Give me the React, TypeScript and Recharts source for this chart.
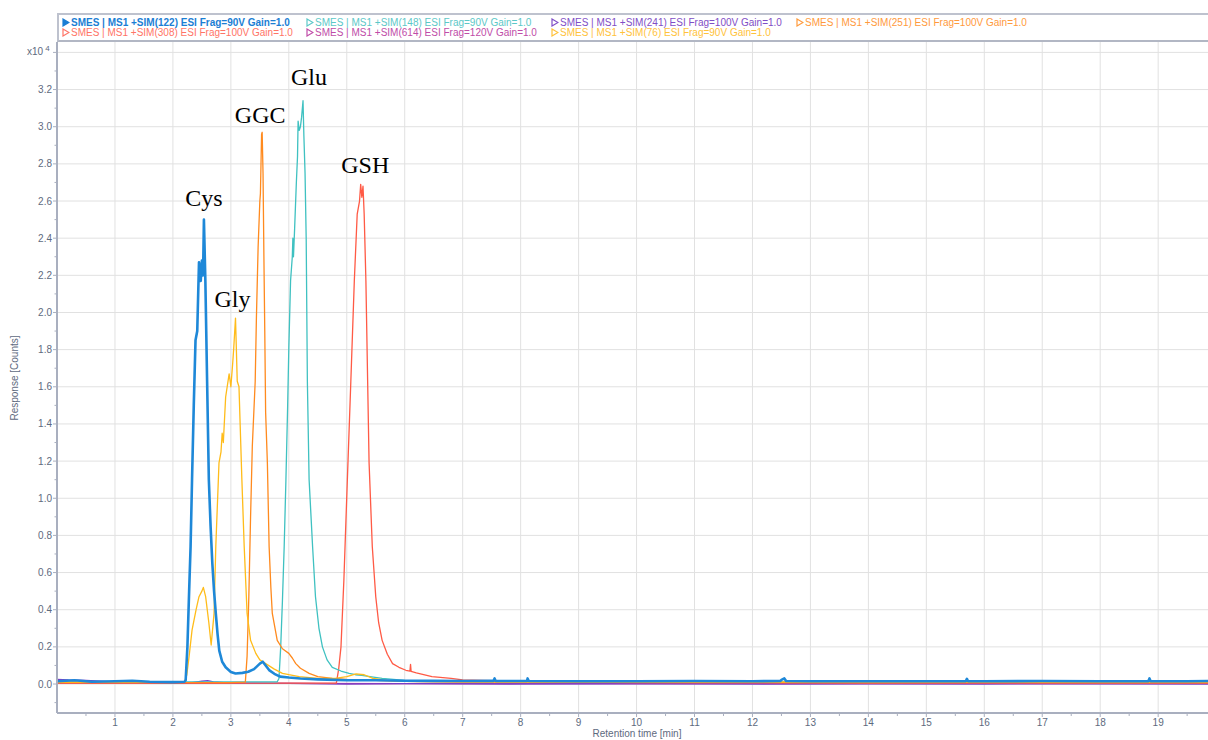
import React from "react";
import { CartesianGrid, Line, LineChart, ReferenceDot, XAxis, YAxis } from "recharts";

// retention time [min], response [x10^4 counts]
const sim122: [number, number][] = [
  [0, 0.015], [0.3, 0.02], [0.6, 0.012], [1.0, 0.015], [1.3, 0.018], [1.6, 0.012], [2.0, 0.01], [2.2, 0.012],
  [2.22, 0.02], [2.25, 0.2], [2.28, 0.5], [2.305, 0.74], [2.33, 1.1], [2.36, 1.5], [2.39, 1.85], [2.42, 1.9],
  [2.45, 2.27], [2.48, 2.17], [2.5, 2.28], [2.52, 2.2], [2.535, 2.5], [2.56, 2.17], [2.59, 1.63], [2.62, 1.1],
  [2.65, 0.85], [2.68, 0.65], [2.71, 0.5], [2.74, 0.38], [2.77, 0.27], [2.8, 0.18], [2.85, 0.12], [2.91, 0.09],
  [3.0, 0.065], [3.08, 0.057], [3.2, 0.06], [3.3, 0.066], [3.4, 0.08], [3.5, 0.11], [3.55, 0.12], [3.6, 0.1],
  [3.66, 0.075], [3.75, 0.055], [3.85, 0.04], [4.0, 0.035], [4.2, 0.03], [4.5, 0.025], [5.0, 0.02], [5.5, 0.02],
  [6.0, 0.018], [6.5, 0.017], [7.0, 0.016], [7.5, 0.017], [7.53, 0.016], [7.55, 0.03], [7.57, 0.016],
  [8.1, 0.017], [8.11, 0.017], [8.12, 0.03], [8.14, 0.016], [9, 0.015], [10, 0.015], [11, 0.016], [12, 0.015],
  [12.48, 0.016], [12.5, 0.022], [12.55, 0.03], [12.58, 0.016], [13, 0.015], [14, 0.015], [15, 0.015],
  [15.68, 0.015], [15.7, 0.028], [15.72, 0.015], [16, 0.015], [17, 0.016], [18, 0.015], [18.83, 0.015],
  [18.85, 0.03], [18.87, 0.015], [19.5, 0.015], [19.86, 0.016],
];
const sim148: [number, number][] = [
  [0, 0.012], [1, 0.012], [2, 0.012], [3, 0.012], [3.8, 0.012], [3.83, 0.03], [3.86, 0.2], [3.89, 0.45],
  [3.92, 0.74], [3.95, 1.1], [3.98, 1.5], [4.0, 1.81], [4.03, 2.17], [4.06, 2.3], [4.07, 2.4], [4.08, 2.3],
  [4.1, 2.45], [4.13, 2.7], [4.15, 2.84], [4.16, 3.03], [4.18, 2.98], [4.2, 3.0], [4.22, 3.05], [4.245, 3.14],
  [4.26, 2.95], [4.28, 2.75], [4.3, 2.39], [4.32, 1.63], [4.35, 1.1], [4.41, 0.74], [4.46, 0.47], [4.52, 0.3],
  [4.58, 0.2], [4.66, 0.13], [4.75, 0.09], [4.9, 0.07], [5.04, 0.057], [5.15, 0.05], [5.26, 0.047], [5.4, 0.04],
  [5.61, 0.03], [6, 0.02], [6.5, 0.016], [7, 0.014], [8, 0.013], [10, 0.012], [12, 0.012], [14, 0.012],
  [16, 0.012], [18, 0.012], [19.86, 0.012],
];
const sim241: [number, number][] = [
  [0, 0.025], [0.2, 0.022], [0.5, 0.02], [1, 0.012], [1.5, 0.008], [2, 0.005], [2.3, 0.006], [2.5, 0.015],
  [2.6, 0.018], [2.7, 0.012], [3, 0.005], [4, 0.003], [5, 0.0], [6, 0.002], [8, 0.0], [10, 0.001], [12, 0.0],
  [14, 0.001], [16, 0.0], [18, 0.001], [19.86, 0.0],
];
const sim251: [number, number][] = [
  [0, 0.008], [1, 0.008], [2, 0.008], [3, 0.008], [3.25, 0.01], [3.28, 0.15], [3.31, 0.47], [3.34, 0.9],
  [3.37, 1.28], [3.42, 1.63], [3.44, 1.96], [3.47, 2.35], [3.5, 2.6], [3.51, 2.64], [3.53, 2.96], [3.54, 2.97],
  [3.555, 2.75], [3.57, 2.3], [3.585, 1.9], [3.6, 1.46], [3.63, 1.19], [3.66, 0.74], [3.69, 0.52], [3.715, 0.38],
  [3.8, 0.235], [3.89, 0.19], [4.0, 0.165], [4.06, 0.14], [4.12, 0.11], [4.2, 0.085], [4.35, 0.057], [4.5, 0.04],
  [4.75, 0.03], [5, 0.025], [5.5, 0.02], [6, 0.015], [7, 0.01], [8, 0.01], [10, 0.009], [12, 0.009],
  [14, 0.008], [16, 0.009], [18, 0.008], [19.86, 0.008],
];
const sim308: [number, number][] = [
  [0, 0.005], [1, 0.005], [2, 0.005], [3, 0.005], [4, 0.005], [4.82, 0.005], [4.86, 0.08], [4.9, 0.2],
  [4.95, 0.56], [5.01, 1.1], [5.07, 1.63], [5.13, 2.17], [5.18, 2.53], [5.22, 2.6], [5.24, 2.69], [5.26, 2.62],
  [5.28, 2.68], [5.3, 2.53], [5.33, 2.17], [5.36, 1.63], [5.385, 1.19], [5.44, 0.74], [5.5, 0.47], [5.55, 0.33],
  [5.61, 0.235], [5.7, 0.16], [5.79, 0.11], [5.9, 0.09], [6.02, 0.074], [6.09, 0.07], [6.1, 0.106], [6.11, 0.068],
  [6.2, 0.06], [6.47, 0.04], [6.8, 0.03], [7, 0.022], [7.5, 0.018], [8, 0.014], [9, 0.01], [10, 0.008],
  [12, 0.006], [14, 0.005], [16, 0.005], [18, 0.005], [19.86, 0.005],
];
const sim614: [number, number][] = [
  [0, 0.004], [2, 0.003], [4, 0.003], [6, 0.002], [8, 0.003], [10, 0.002], [12, 0.003], [14, 0.002],
  [16, 0.003], [18, 0.002], [19.86, 0.003],
];
const sim76: [number, number][] = [
  [0, 0.01], [0.5, 0.012], [1.0, 0.01], [1.5, 0.012], [2.0, 0.01], [2.2, 0.01], [2.24, 0.05], [2.28, 0.15],
  [2.33, 0.29], [2.4, 0.4], [2.45, 0.47], [2.5, 0.5], [2.525, 0.52], [2.565, 0.47], [2.62, 0.33], [2.66, 0.21],
  [2.71, 0.38], [2.74, 0.74], [2.795, 1.19], [2.83, 1.25], [2.85, 1.35], [2.87, 1.3], [2.91, 1.545], [2.97, 1.67],
  [3.0, 1.6], [3.03, 1.72], [3.05, 1.81], [3.08, 1.97], [3.11, 1.63], [3.14, 1.6], [3.19, 1.1], [3.23, 0.74],
  [3.28, 0.38], [3.34, 0.235], [3.43, 0.165], [3.5, 0.13], [3.6, 0.11], [3.75, 0.08], [3.89, 0.057], [4.0, 0.05],
  [4.18, 0.04], [4.5, 0.03], [4.8, 0.03], [5.0, 0.04], [5.16, 0.055], [5.3, 0.05], [5.45, 0.03], [5.7, 0.02],
  [6, 0.015], [7, 0.012], [8, 0.01], [9, 0.011], [10, 0.01], [11, 0.01], [12, 0.011], [13, 0.01], [14, 0.01],
  [15, 0.01], [16, 0.011], [17, 0.01], [18, 0.01], [19, 0.01], [19.86, 0.01],
];

const legendLabels = [
  "SMES | MS1 +SIM(122) ESI Frag=90V Gain=1.0",
  "SMES | MS1 +SIM(148) ESI Frag=90V Gain=1.0",
  "SMES | MS1 +SIM(241) ESI Frag=100V Gain=1.0",
  "SMES | MS1 +SIM(251) ESI Frag=100V Gain=1.0",
  "SMES | MS1 +SIM(308) ESI Frag=100V Gain=1.0",
  "SMES | MS1 +SIM(614) ESI Frag=120V Gain=1.0",
  "SMES | MS1 +SIM(76) ESI Frag=90V Gain=1.0",
];

const peakNames = ["Cys", "Gly", "GGC", "Glu", "GSH"];
const peakTimes = [2.535, 3.08, 3.54, 4.245, 5.25];
const peakHeights = [2.5, 1.97, 2.97, 3.14, 2.685];

const xTicks = [
  0.5, 1, 1.5, 2, 2.5, 3, 3.5, 4, 4.5, 5, 5.5, 6, 6.5, 7, 7.5, 8, 8.5, 9, 9.5, 10,
  10.5, 11, 11.5, 12, 12.5, 13, 13.5, 14, 14.5, 15, 15.5, 16, 16.5, 17, 17.5, 18, 18.5, 19, 19.5,
];
const xGrid = [1, 2, 3, 4, 5, 6, 7, 8, 9, 10, 11, 12, 13, 14, 15, 16, 17, 18, 19];
const yTicks = [
  -0.1, 0, 0.1, 0.2, 0.3, 0.4, 0.5, 0.6, 0.7, 0.8, 0.9, 1.0, 1.1, 1.2, 1.3, 1.4, 1.5, 1.6, 1.7,
  1.8, 1.9, 2.0, 2.1, 2.2, 2.3, 2.4, 2.5, 2.6, 2.7, 2.8, 2.9, 3.0, 3.1, 3.2, 3.3, 3.4,
];
const yGrid = [0, 0.2, 0.4, 0.6, 0.8, 1.0, 1.2, 1.4, 1.6, 1.8, 2.0, 2.2, 2.4, 2.6, 2.8, 3.0, 3.2, 3.4];

const series = [
  { key: "614", data: sim614, color: "#C23E9E", width: 1.3 },
  { key: "241", data: sim241, color: "#7B3DC6", width: 1.3 },
  { key: "308", data: sim308, color: "#FF5A45", width: 1.3 },
  { key: "148", data: sim148, color: "#3FC1C1", width: 1.3 },
  { key: "251", data: sim251, color: "#FF8A1E", width: 1.3 },
  { key: "76", data: sim76, color: "#FFBC1A", width: 1.3 },
  { key: "122", data: sim122, color: "#1E88D8", width: 2.6 },
];

// legend order / colours / layout
const legendColors = ["#1B7ED4", "#5CC8C8", "#7F4EC6", "#FF9A3C", "#FF7466", "#C04CA8", "#FFC23A"];
const legendCols = [62, 306, 551, 796, 62, 306, 551];
const legendRows = [19, 19, 19, 19, 29, 29, 29];

const peakDx = [0, -3, -2, 6, 4];
const peakDy = [-14, -11, -9.5, -15.5, -12.5];

const AXIS = "#A9AFBF";
const TEXT = "#5E6A7E";
const SANS = '"Liberation Sans", Arial, sans-serif';

const toPoints = (a: [number, number][]) => a.map(([t, v]) => ({ t, v }));

function XTick(props: any) {
  const { x, y, payload } = props;
  const v = payload.value as number;
  const major = Number.isInteger(v);
  return (
    <g>
      <line x1={x} x2={x} y1={y} y2={y + (major ? 4 : 3)} stroke={AXIS} strokeWidth={1} />
      {major && (
        <text x={x} y={y + 12.5} textAnchor="middle" fontSize={10} fontFamily={SANS} fill={TEXT}>
          {v}
        </text>
      )}
    </g>
  );
}

function YTick(props: any) {
  const { x, y, payload } = props;
  const v = payload.value as number;
  const major = Math.round(v * 10) % 2 === 0;
  const showLabel = major && v < 3.3;
  return (
    <g>
      <line x1={x - (major ? 4 : 2.5)} x2={x} y1={y} y2={y} stroke={AXIS} strokeWidth={1} />
      {showLabel && (
        <text x={x - 5} y={y + 3.5} textAnchor="end" fontSize={10} fontFamily={SANS} fill={TEXT}>
          {v.toFixed(1)}
        </text>
      )}
    </g>
  );
}

function PeakLabel(props: any) {
  const { viewBox, text, dx, dy } = props;
  if (!viewBox) return null;
  const cx = viewBox.x + (viewBox.width || 0) / 2;
  const cy = viewBox.y + (viewBox.height || 0) / 2;
  return (
    <text
      x={cx + dx}
      y={cy + dy}
      textAnchor="middle"
      fontSize={24}
      fontFamily='"Liberation Serif", "Times New Roman", serif'
      fill="#000"
    >
      {text}
    </text>
  );
}

function Triangle({ color, filled }: { color: string; filled: boolean }) {
  return (
    <svg width={8} height={9} style={{ display: "inline-block", verticalAlign: "-1px", marginRight: 1 }}>
      <polygon
        points="1,1 7,4.5 1,8"
        fill={filled ? color : "none"}
        stroke={color}
        strokeWidth={1.2}
      />
    </svg>
  );
}

export default function App() {
  return (
    <div
      style={{
        position: "absolute",
        left: 0,
        top: 0,
        width: 1208,
        height: 740,
        background: "#fff",
        fontFamily: SANS,
        overflow: "hidden",
      }}
    >
      <LineChart width={1208} height={740} margin={{ top: 42, right: 0, bottom: 0, left: 0 }}>
        <CartesianGrid stroke="#E1E1E1" strokeWidth={1} verticalValues={xGrid} horizontalValues={yGrid} />
        <XAxis
          dataKey="t"
          type="number"
          domain={[0, 19.86]}
          allowDataOverflow
          ticks={xTicks}
          interval={0}
          height={27}
          tickSize={0}
          tickMargin={0}
          tickLine={false}
          axisLine={{ stroke: AXIS, strokeWidth: 2 }}
          tick={<XTick />}
        />
        <YAxis
          type="number"
          domain={[-0.156, 3.456]}
          allowDataOverflow
          ticks={yTicks}
          interval={0}
          width={57}
          tickSize={0}
          tickMargin={0}
          tickLine={false}
          axisLine={{ stroke: AXIS, strokeWidth: 2 }}
          tick={<YTick />}
        />
        {series.map((s) => (
          <Line
            key={s.key}
            data={toPoints(s.data)}
            dataKey="v"
            type="linear"
            stroke={s.color}
            strokeWidth={s.width}
            dot={false}
            activeDot={false}
            strokeLinejoin="round"
            isAnimationActive={false}
          />
        ))}
        {peakNames.map((name, i) => (
          <ReferenceDot
            key={name}
            x={peakTimes[i]}
            y={peakHeights[i]}
            r={0}
            fill="none"
            stroke="none"
            label={<PeakLabel text={name} dx={peakDx[i]} dy={peakDy[i]} />}
          />
        ))}
      </LineChart>

      {/* legend box */}
      <div
        style={{
          position: "absolute",
          left: 57,
          top: 13,
          width: 1151,
          height: 29,
          borderTop: "2px solid #BEC2CE",
          borderLeft: "2px solid #BEC2CE",
          borderBottom: "2px solid #B2B7C4",
          boxSizing: "border-box",
        }}
      />
      {legendLabels.map((label, i) => (
        <div
          key={label}
          style={{
            position: "absolute",
            left: legendCols[i],
            top: legendRows[i] - 1,
            fontSize: 10,
            lineHeight: "10px",
            whiteSpace: "nowrap",
            color: legendColors[i],
            fontWeight: i === 0 ? "bold" : "normal",
          }}
        >
          <Triangle color={legendColors[i]} filled={i === 0} />
          {label}
        </div>
      ))}

      {/* multiplier */}
      <div style={{ position: "absolute", left: 27, top: 44, fontSize: 10, color: TEXT, whiteSpace: "nowrap" }}>
        x10<sup style={{ fontSize: 8, marginLeft: 2, verticalAlign: "4px" }}>4</sup>
      </div>

      {/* axis titles */}
      <div
        style={{
          position: "absolute",
          left: 0,
          top: 728,
          width: 1274,
          textAlign: "center",
          fontSize: 10,
          color: TEXT,
        }}
      >
        Retention time [min]
      </div>
      <div
        style={{
          position: "absolute",
          left: 14,
          top: 378,
          transform: "translate(-50%, -50%) rotate(-90deg)",
          fontSize: 10,
          color: TEXT,
          whiteSpace: "nowrap",
        }}
      >
        Response [Counts]
      </div>
    </div>
  );
}
